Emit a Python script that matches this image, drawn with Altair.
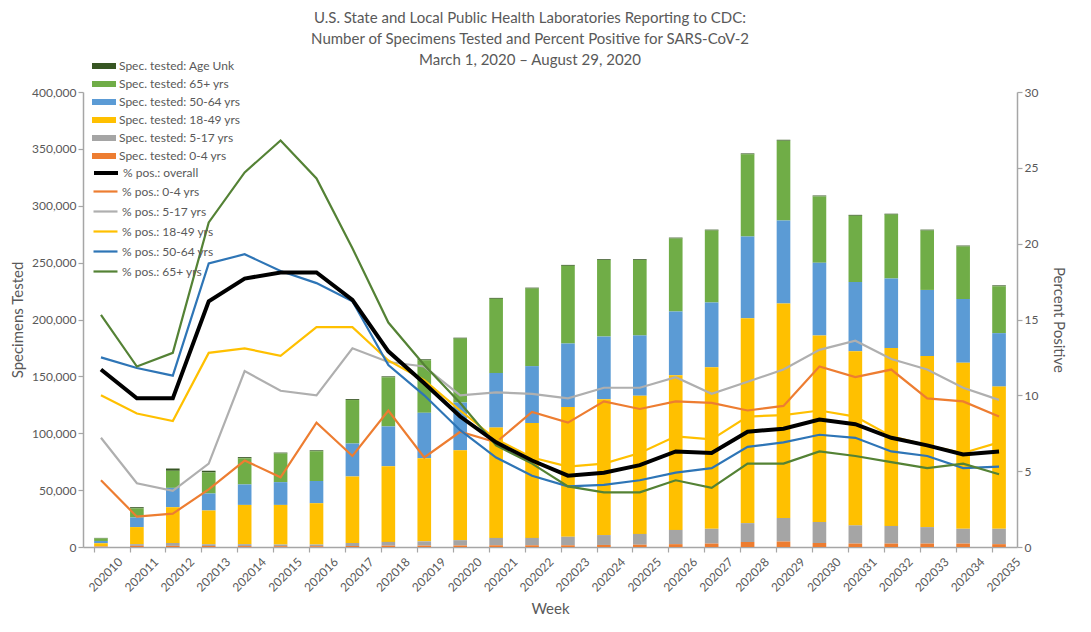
import altair as alt
import pandas as pd

weeks = ["202010", "202011", "202012", "202013", "202014", "202015", "202016",
         "202017", "202018", "202019", "202020", "202021", "202022", "202023",
         "202024", "202025", "202026", "202027", "202028", "202029", "202030",
         "202031", "202032", "202033", "202034", "202035"]

# Specimens tested per age group (stack components)
spec_0_4 = [300, 1000, 1000, 800, 800, 700, 700, 900, 1200, 1200, 1300, 1500, 1500,
            1500, 1800, 2000, 2500, 3000, 4400, 4800, 3500, 3000, 3000, 3000, 3000, 2500]
spec_5_17 = [300, 1500, 2500, 1700, 1700, 1500, 1500, 2600, 3300, 3800, 4700, 6500, 6500,
             7500, 8700, 9500, 12500, 13000, 16600, 20700, 18500, 16000, 15500, 14500, 13000, 13500]
spec_18_49 = [2700, 15000, 31500, 29500, 34500, 34800, 36300, 58500, 66500, 73000, 79000,
              97000, 101000, 114000, 119500, 121500, 136000, 142000, 180000, 188500, 164000,
              153000, 156500, 150500, 146000, 125000]
spec_50_64 = [2000, 8500, 17000, 15000, 18000, 20000, 19500, 29000, 35000, 40000, 42000,
              48000, 50000, 56000, 55000, 53000, 56000, 57000, 72000, 73000, 64000, 61000,
              61000, 58000, 56000, 47000]
spec_65 = [2200, 8000, 15000, 18500, 23000, 25200, 26200, 38200, 43200, 46200, 56200,
           65200, 68200, 68200, 67200, 66200, 64200, 63200, 72200, 70200, 58200, 58200,
           56200, 52200, 46200, 41200]
spec_unk = [500, 1000, 2000, 1500, 1000, 800, 800, 800, 800, 800, 800, 800, 800, 800,
            800, 800, 800, 800, 800, 800, 800, 800, 800, 800, 800, 800]

# Percent positive
pct_overall = [11.7, 9.8, 9.8, 16.2, 17.7, 18.1, 18.1, 16.3, 12.9, 10.8, 8.6, 6.9, 5.7,
               4.7, 4.9, 5.4, 6.3, 6.2, 7.6, 7.8, 8.4, 8.1, 7.2, 6.7, 6.1, 6.3]
pct_0_4 = [4.4, 2.0, 2.2, 3.8, 5.7, 4.6, 8.2, 6.0, 9.0, 5.9, 7.6, 6.9, 8.9, 8.2, 9.6,
           9.1, 9.6, 9.5, 9.0, 9.3, 11.9, 11.2, 11.7, 9.8, 9.6, 8.6]
pct_5_17 = [7.2, 4.2, 3.7, 5.5, 11.6, 10.3, 10.0, 13.1, 12.2, 11.9, 10.0, 10.2, 10.1,
            9.8, 10.5, 10.5, 11.2, 10.1, 10.9, 11.7, 13.0, 13.6, 12.4, 11.7, 10.5, 9.7]
pct_18_49 = [10.0, 8.8, 8.3, 12.8, 13.1, 12.6, 14.5, 14.5, 12.3, 11.0, 9.0, 7.1, 5.9,
             5.3, 5.5, 6.2, 7.3, 7.1, 8.6, 8.7, 9.0, 8.6, 7.3, 6.7, 6.2, 6.9]
pct_50_64 = [12.5, 11.8, 11.3, 18.7, 19.3, 18.2, 17.4, 16.2, 12.0, 10.0, 7.7, 5.9, 4.7,
             4.0, 4.1, 4.4, 4.9, 5.2, 6.6, 6.9, 7.4, 7.2, 6.3, 6.0, 5.2, 5.3]
pct_65 = [15.3, 11.9, 12.8, 21.4, 24.7, 26.8, 24.3, 19.7, 14.8, 12.0, 9.5, 6.7, 5.5,
          4.0, 3.6, 3.6, 4.4, 3.9, 5.5, 5.5, 6.3, 6.0, 5.6, 5.2, 5.5, 4.8]

left_ticks = [0, 50000, 100000, 150000, 200000, 250000, 300000, 350000, 400000]
right_ticks = [0, 5, 10, 15, 20, 25, 30]

bar_names = ["Spec. tested: Age Unk", "Spec. tested: 65+ yrs", "Spec. tested: 50-64 yrs",
             "Spec. tested: 18-49 yrs", "Spec. tested: 5-17 yrs", "Spec. tested: 0-4 yrs"]
bar_colors = ["#375623", "#70AD47", "#5B9BD5", "#FFC000", "#A5A5A5", "#ED7D31"]
bar_series = [spec_unk, spec_65, spec_50_64, spec_18_49, spec_5_17, spec_0_4]

age_line_names = ["% pos.: 0-4 yrs", "% pos.: 5-17 yrs", "% pos.: 18-49 yrs",
                  "% pos.: 50-64 yrs", "% pos.: 65+ yrs"]
age_line_colors = ["#ED7D31", "#AFAFAF", "#FFC000", "#2E75B6", "#548235"]
age_line_series = [pct_0_4, pct_5_17, pct_18_49, pct_50_64, pct_65]

rows = []
for rank, (name, vals) in enumerate(zip(bar_names, bar_series)):
    for w, v in zip(weeks, vals):
        rows.append({"week": w, "group": name, "count": v, "stack": len(bar_names) - rank})
bar_df = pd.DataFrame(rows)

overall_df = pd.DataFrame({"week": weeks, "pct": pct_overall,
                           "overall": ["% pos.: overall"] * len(weeks)})

lrows = []
for name, vals in zip(age_line_names, age_line_series):
    for w, v in zip(weeks, vals):
        lrows.append({"week": w, "series": name, "pct": v})
age_df = pd.DataFrame(lrows)

FONT = "Lato"
TXT = "#595959"
AX = "#A6A6A6"
BAR_SYM = "M-1,-0.25H1V0.25H-1Z"
LINE_SYM = "M-1,0H1"

x_enc = alt.X(
    "week:O", sort=weeks,
    scale=alt.Scale(paddingInner=0.62, paddingOuter=0.31),
    axis=alt.Axis(title="Week", labelAngle=315, bandPosition=0, labelOffset=16,
                  tickSize=5, labelFontSize=12, labelPadding=4, titleFontSize=15,
                  titleY=54, titleBaseline="top"),
)

leg_common = dict(title=None, orient="none", legendX=9, labelFont=FONT, labelFontSize=12,
                  labelColor=TXT, padding=0, labelOffset=3, symbolSize=576)

bars = alt.Chart(bar_df).mark_bar().encode(
    x=x_enc,
    y=alt.Y("count:Q", stack="zero", scale=alt.Scale(domain=[0, 400000]),
            axis=alt.Axis(title="Specimens Tested", values=left_ticks, format=",.0f",
                          labelFontSize=12, titleFontSize=15, tickSize=5, titlePadding=6)),
    color=alt.Color("group:N", scale=alt.Scale(domain=bar_names, range=bar_colors),
                    legend=alt.Legend(legendY=-38, symbolType=BAR_SYM, rowPadding=0,
                                      symbolStrokeWidth=0, **leg_common)),
    order=alt.Order("stack:Q", sort="ascending"),
)

y_right = alt.Y("pct:Q", scale=alt.Scale(domain=[0, 30]),
                axis=alt.Axis(title="Percent Positive", orient="right", values=right_ticks,
                              labelFontSize=12, titleFontSize=15, tickSize=5, titlePadding=13))

age_lines = alt.Chart(age_df).mark_line(strokeWidth=2.2).encode(
    x=x_enc,
    y=y_right,
    color=alt.Color("series:N", scale=alt.Scale(domain=age_line_names, range=age_line_colors),
                    legend=alt.Legend(legendY=86, symbolType=LINE_SYM, rowPadding=-2.2,
                                      symbolStrokeWidth=2.2, **leg_common)),
)

overall_line = alt.Chart(overall_df).mark_line(strokeWidth=4).encode(
    x=x_enc,
    y=y_right,
    color=alt.Color("overall:N", scale=alt.Scale(domain=["% pos.: overall"], range=["#000000"]),
                    legend=alt.Legend(legendY=67, symbolType=LINE_SYM, rowPadding=0,
                                      symbolStrokeWidth=4, **leg_common)),
)

lines = alt.layer(age_lines, overall_line).resolve_scale(color="independent")

chart = alt.layer(bars, lines).resolve_scale(y="independent", color="independent").properties(
    width=934, height=455,
    padding={"left": 75, "top": 84, "right": 66, "bottom": 77},
    autosize=alt.AutoSizeParams(type="none"),
    title=alt.TitleParams(
        text=["U.S. State and Local Public Health Laboratories Reporting to CDC:",
              "Number of Specimens Tested and Percent Positive for SARS-CoV-2",
              "March 1, 2020 \u2013 August 29, 2020"],
        font=FONT, fontSize=15, fontWeight="normal", color=TXT, anchor="middle",
        offset=-14, dx=-20, lineHeight=21),
).configure_view(stroke=None).configure_axis(
    grid=False, domainColor=AX, tickColor=AX, domainWidth=1.5, tickWidth=1.2,
    labelFont=FONT, labelColor=TXT, titleFont=FONT, titleColor=TXT, titleFontWeight="normal",
)

chart.save("out.html", embed_options={"renderer": "svg", "actions": False})
